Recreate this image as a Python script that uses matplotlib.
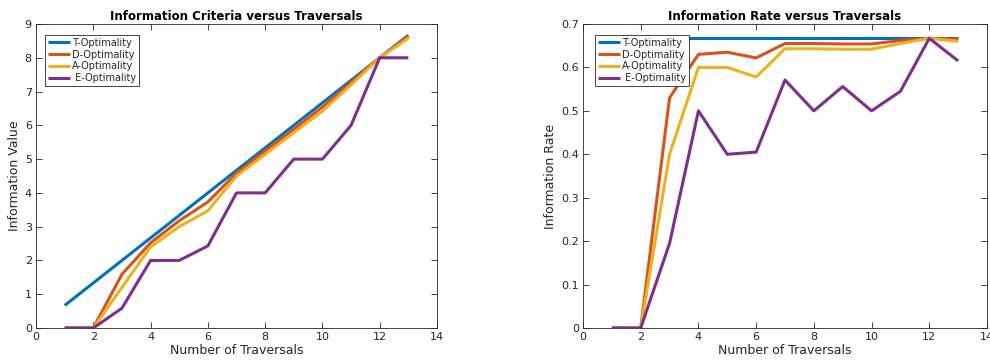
import matplotlib
matplotlib.use("Agg")
import matplotlib.pyplot as plt

traversals = [1, 2, 3, 4, 5, 6, 7, 8, 9, 10, 11, 12, 13]
series_names = ["T-Optimality", "D-Optimality", "A-Optimality", " E-Optimality"]
colors = ["#0072BD", "#D95319", "#EDB120", "#7E2F8E"]

# Information value
t_value = [0.667, 1.333, 2.0, 2.667, 3.333, 4.0, 4.667, 5.333, 6.0, 6.667, 7.333, 8.0, 8.667]
d_value = [0.0, 0.0, 1.59, 2.52, 3.175, 3.73, 4.585, 5.24, 5.886, 6.54, 7.28, 8.0, 8.645]
a_value = [0.0, 0.0, 1.2, 2.4, 3.0, 3.47, 4.5, 5.14, 5.78, 6.42, 7.2, 8.0, 8.58]
e_value = [0.0, 0.0, 0.585, 2.0, 2.0, 2.43, 4.0, 4.0, 5.0, 5.0, 6.0, 8.0, 8.0]

# Information rate
t_rate = [0.667, 0.667, 0.667, 0.667, 0.667, 0.667, 0.667, 0.667, 0.667, 0.667, 0.667, 0.667, 0.667]
d_rate = [0.0, 0.0, 0.53, 0.63, 0.635, 0.622, 0.655, 0.655, 0.654, 0.654, 0.662, 0.667, 0.665]
a_rate = [0.0, 0.0, 0.4, 0.6, 0.6, 0.578, 0.643, 0.643, 0.642, 0.642, 0.655, 0.667, 0.66]
e_rate = [0.0, 0.0, 0.195, 0.5, 0.4, 0.405, 0.571, 0.5, 0.556, 0.5, 0.545, 0.667, 0.615]

x_ticks = [0, 2, 4, 6, 8, 10, 12, 14]
left_yticks = [0, 1, 2, 3, 4, 5, 6, 7, 8, 9]
right_yticks = [0, 0.1, 0.2, 0.3, 0.4, 0.5, 0.6, 0.7]

plt.rcParams['font.family'] = ['DejaVu Sans']
axcol = "#262626"

fig = plt.figure(figsize=(9.9, 3.6), dpi=100)
W, H = 990, 360
def rect(l, r, t, b):
    return [l / W, 1 - b / H, (r - l) / W, (b - t) / H]

ax1 = fig.add_axes(rect(36, 437, 24, 328))
ax2 = fig.add_axes(rect(583, 987, 24, 328))

def style(ax, yticks, ylim, title, ylabel, ytl):
    ax.set_xlim(0, 14)
    ax.set_ylim(*ylim)
    ax.set_xticks(x_ticks)
    ax.set_yticks(yticks)
    ax.set_yticklabels(ytl)
    ax.tick_params(direction='in', top=True, right=True, length=4, width=0.6,
                   colors=axcol, labelsize=8, pad=3)
    for s in ax.spines.values():
        s.set_color(axcol)
        s.set_linewidth(0.6)
    ax.set_title(title, fontsize=8.5, fontweight='bold', color='black', pad=3)
    ax.set_xlabel("Number of Traversals", fontsize=9, color=axcol, labelpad=1)
    ax.set_ylabel(ylabel, fontsize=9, color=axcol, labelpad=3)

for ax, data, bx in [(ax1, [t_value, d_value, a_value, e_value], 0.022),
                     (ax2, [t_rate, d_rate, a_rate, e_rate], 0.03)]:
    for name, col, ys in zip(series_names, colors, data):
        ax.plot(traversals, ys, color=col, lw=2.2, label=name, solid_capstyle='butt')
    leg = ax.legend(loc='upper left', bbox_to_anchor=(bx, 0.965), fontsize=7,
                    frameon=True, fancybox=False, framealpha=1, borderpad=0.3,
                    labelspacing=0.2, handlelength=2.3, handletextpad=0.2,
                    borderaxespad=0)
    leg.get_frame().set_edgecolor(axcol)
    leg.get_frame().set_linewidth(0.6)
    for t in leg.get_texts():
        t.set_color(axcol)

style(ax1, left_yticks, (0, 9), "Information Criteria versus Traversals", "Information Value",
      [str(v) for v in left_yticks])
style(ax2, right_yticks, (0, 0.7), "Information Rate versus Traversals", "Information Rate",
      ["0", "0.1", "0.2", "0.3", "0.4", "0.5", "0.6", "0.7"])

fig.savefig("out.png", dpi=100)
